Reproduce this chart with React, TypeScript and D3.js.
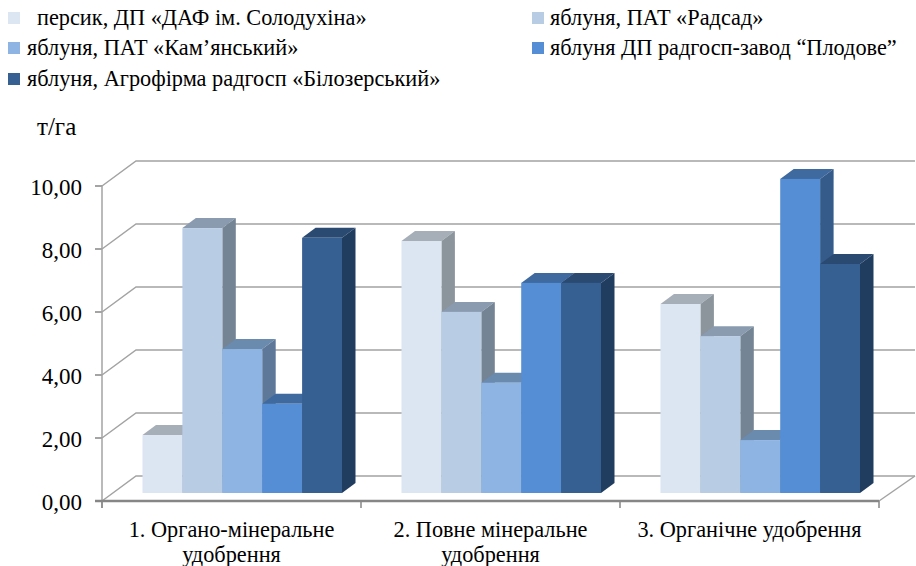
import React from "react";
import * as d3 from "d3";

const categories = ["1. Органо-мінеральне|удобрення", "2. Повне мінеральне|удобрення", "3. Органічне удобрення"];
const seriesNames = [
  "персик, ДП «ДАФ ім. Солодухіна»",
  "яблуня, ПАТ «Радсад»",
  "яблуня, ПАТ «Кам’янський»",
  "яблуня ДП радгосп-завод “Плодове”",
  "яблуня, Агрофірма радгосп «Білозерський»",
];
const peach = [1.84, 8.0, 6.0];
const radsad = [8.41, 5.75, 4.98];
const kamyansky = [4.57, 3.5, 1.68];
const plodove = [2.83, 6.67, 9.97];
const bilozersky = [8.1, 6.67, 7.27];
const seriesValues = [peach, radsad, kamyansky, plodove, bilozersky];
const ticks = [0, 2, 4, 6, 8, 10];

const front = ["#dce6f2", "#b8cce4", "#8db4e2", "#558ed5", "#376092"];
const topFace = ["#a6aeb8", "#8a9bb0", "#6a8aae", "#3f6a9f", "#2a4a72"];
const sideFace = ["#8c949c", "#748494", "#5d7899", "#355b8b", "#203d60"];

const FONT = "'Liberation Serif','Times New Roman',serif";
const dx = 34, dy = 25;
const barDx = 13.5, barDy = 10;
const baseY = 493;
const y = d3.scaleLinear().domain([0, 10]).range([501, 186]);
const barH = d3.scaleLinear().domain([0, 10]).range([0, 315]);
const x0 = d3.scaleBand<number>().domain([0, 1, 2]).range([102, 879]);
const x1 = d3.scaleBand<number>().domain([0, 1, 2, 3, 4]).range([40.5, 240]);

const legendPos = [
  { sx: 8, tx: 37, y: 18 },
  { sx: 532, tx: 550, y: 18 },
  { sx: 8, tx: 27, y: 48 },
  { sx: 532, tx: 550, y: 48 },
  { sx: 8, tx: 27, y: 79 },
];

export default function App() {
  const grid = "#a3a3a3";
  const fmt = (t: number) => d3.format(".2f")(t).replace(".", ",");
  return (
    <svg width={916} height={566} style={{ position: "absolute", left: 0, top: 0, background: "#fff" }} fontFamily={FONT} fill="#000">
      {seriesNames.map((n, i) => (
        <g key={n}>
          <rect x={legendPos[i].sx} y={legendPos[i].y - 6} width={12} height={12} fill={front[i]} />
          <text x={legendPos[i].tx} y={legendPos[i].y + 7} fontSize={22.3}>{n}</text>
        </g>
      ))}
      <text x={37} y={135} fontSize={25}>т/га</text>

      {ticks.map((t) => (
        <g key={t}>
          <polyline
            points={`102,${y(t)} ${102 + dx},${y(t) - dy} 915,${y(t) - dy}`}
            fill="none" stroke={grid} strokeWidth={1.5}
          />
          <line x1={95} x2={102} y1={y(t)} y2={y(t)} stroke="#868686" strokeWidth={1.5} />
          <text x={82} y={y(t) + 8.5} fontSize={23} textAnchor="end">{fmt(t)}</text>
        </g>
      ))}
      <line x1={102} x2={102} y1={186} y2={508} stroke={grid} strokeWidth={1.5} />
      <line x1={879} y1={501} x2={915} y2={476} stroke={grid} strokeWidth={1.5} />

      {categories.map((_, c) =>
        seriesValues.map((vals, s) => {
          const bx = x0(c)! + x1(s)!;
          const w = x1.bandwidth();
          const h = barH(vals[c]);
          const top = baseY - h;
          return (
            <g key={`${c}-${s}`}>
              <polygon points={`${bx},${top} ${bx + barDx},${top - barDy} ${bx + w + barDx},${top - barDy} ${bx + w},${top}`} fill={topFace[s]} />
              <polygon points={`${bx + w},${top} ${bx + w + barDx},${top - barDy} ${bx + w + barDx},${baseY - barDy} ${bx + w},${baseY}`} fill={sideFace[s]} />
              <rect x={bx} y={top} width={w} height={h} fill={front[s]} />
            </g>
          );
        })
      )}

      <line x1={95} x2={879} y1={501} y2={501} stroke="#868686" strokeWidth={2.5} />
      {[0, 1, 2, 3].map((i) => {
        const tx = i < 3 ? x0(i)! : x0(2)! + x0.bandwidth();
        return <line key={i} x1={tx} x2={tx} y1={501} y2={508} stroke="#868686" strokeWidth={1.5} />;
      })}

      {categories.map((c, i) => (
        <text key={c} textAnchor="middle" fontSize={22.3}>
          {c.split("|").map((ln, j) => (
            <tspan key={j} x={x0(i)! + x0.bandwidth() / 2} y={537 + j * 24.5}>{ln}</tspan>
          ))}
        </text>
      ))}
    </svg>
  );
}
